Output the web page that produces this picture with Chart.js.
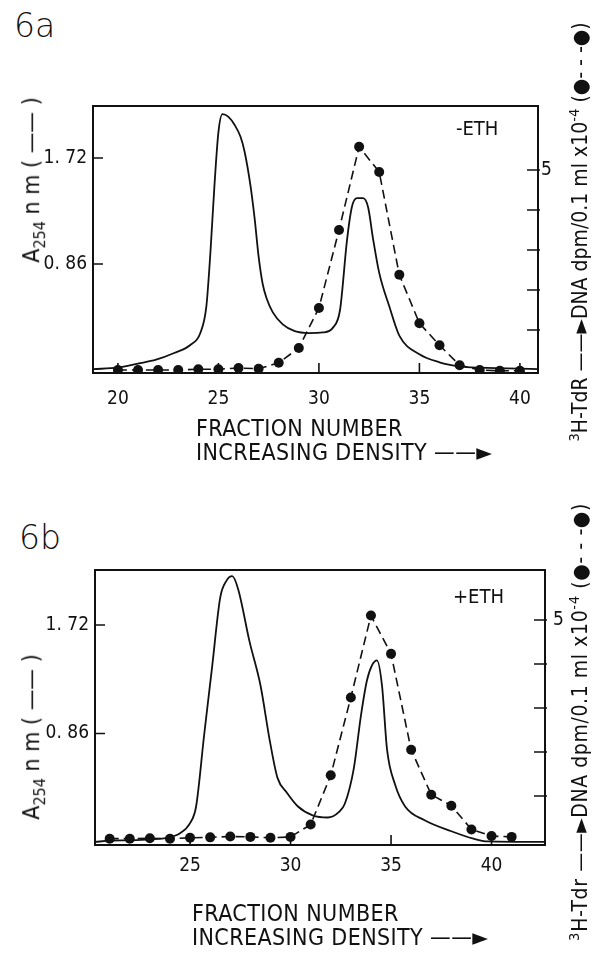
<!DOCTYPE html>
<html>
<head>
<meta charset="utf-8">
<script src="https://cdn.jsdelivr.net/npm/chart.js@4.4.1/dist/chart.umd.min.js"></script>
<style>
body { margin: 0; background: #fff; width: 592px; height: 953px; position: relative; overflow: hidden;
       font-family: "Liberation Sans Narrow", "DejaVu Sans Condensed", sans-serif; color: #111; }
canvas { position: absolute; left: 0; }
.t { position: absolute; white-space: nowrap; line-height: 1; transform: translateY(-50%); }
.rot { position: absolute; white-space: nowrap; line-height: 1; transform-origin: center;
       transform: translate(-50%, -50%) rotate(-90deg); }
.panel { font-family: "DejaVu Sans", sans-serif; font-weight: 200; font-size: 33px; }
sub, sup { font-size: 70%; }
</style>
</head>
<body>
<div class="t panel" style="left:14px;top:25px">6a</div>
<div class="t panel" style="left:19px;top:537px">6b</div>

<canvas id="chartA" width="592" height="470" style="top:0"></canvas>
<canvas id="chartB" width="592" height="483" style="top:470px"></canvas>

<div class="t" style="left:456px;top:128px;font-size:20px">-ETH</div>
<div class="t" style="left:453px;top:596px;font-size:20px">+ETH</div>

<div class="t" style="left:196px;top:428px;font-size:23px;letter-spacing:0.4px">FRACTION NUMBER</div>
<div class="t" style="left:196px;top:452px;font-size:23px;letter-spacing:0.4px">INCREASING DENSITY &#8212;&#8212;&#9658;</div>
<div class="t" style="left:192px;top:913px;font-size:23px;letter-spacing:0.4px">FRACTION NUMBER</div>
<div class="t" style="left:192px;top:937px;font-size:23px;letter-spacing:0.4px">INCREASING DENSITY &#8212;&#8212;&#9658;</div>

<div class="rot" style="left:34px;top:180px;font-size:23px">A<sub>254</sub> n m ( &#8212;&#8212; )</div>
<div class="rot" style="left:34px;top:737px;font-size:23px">A<sub>254</sub> n m ( &#8212;&#8212; )</div>
<div class="rot" style="left:579px;top:232px;font-size:21px"><sup>3</sup>H-TdR &#8212;&#8212;&#9658;DNA dpm/0.1 ml x10<sup>-4</sup> (&#9679;- - -&#9679;)</div>
<div class="rot" style="left:579px;top:722px;font-size:21px;letter-spacing:0.6px"><sup>3</sup>H-Tdr &#8212;&#8212;&#9658;DNA dpm/0.1 ml x10<sup>-4</sup> (&#9679;- - -&#9679;)</div>

<script>
// panel 6a (-ETH)
const fracLineA = [18.76, 20, 21, 21.9, 22.8, 23.6, 24.1, 24.4, 24.6, 24.8, 25.0, 25.2, 25.5, 25.8, 26.1, 26.3, 26.6, 26.8, 27.0, 27.2, 27.4, 27.7, 28.2, 28.8, 29.5, 30.2, 30.7, 31.05, 31.4, 31.64, 31.9, 32.2, 32.45, 32.7, 33.0, 33.5, 34.0, 35, 36, 37, 38, 40.9];
const absA = [0.008, 0.019, 0.052, 0.084, 0.138, 0.203, 0.301, 0.517, 0.95, 1.49, 1.93, 2.076, 2.054, 1.99, 1.892, 1.773, 1.49, 1.232, 0.92, 0.7, 0.58, 0.47, 0.37, 0.315, 0.3, 0.305, 0.344, 0.487, 1.058, 1.323, 1.394, 1.394, 1.318, 1.058, 0.788, 0.517, 0.279, 0.128, 0.063, 0.03, 0.019, 0.008];
const fracDotsA = [20, 21, 22, 23, 24, 25, 26, 27, 28, 29, 30, 31, 32, 33, 34, 35, 36, 37, 38, 39, 40];
const dpmA = [0, 0, 0, 0, 0.02, 0.02, 0.05, 0.03, 0.18, 0.55, 1.55, 3.5, 5.58, 4.95, 2.38, 1.17, 0.62, 0.12, 0, -0.02, -0.02];

// panel 6b (+ETH)
const fracLineB = [20.27, 21, 22, 23, 23.9, 24.5, 25.0, 25.3, 25.7, 26.1, 26.5, 26.8, 27.1, 27.4, 27.96, 28.5, 28.98, 29.35, 29.8, 30.37, 31.1, 31.85, 32.4, 32.7, 33.15, 33.5, 33.8, 34.05, 34.3, 34.55, 34.8, 35.2, 35.7, 36.67, 38, 39.1, 39.8, 42.66];
const absB = [0.0, 0.01, 0.013, 0.02, 0.035, 0.07, 0.15, 0.281, 0.848, 1.392, 1.937, 2.068, 2.107, 2.0, 1.588, 1.244, 0.791, 0.508, 0.394, 0.281, 0.211, 0.194, 0.237, 0.303, 0.586, 1.0, 1.28, 1.4, 1.44, 1.24, 0.734, 0.455, 0.281, 0.172, 0.085, 0.026, 0.004, 0.0];
const fracDotsB = [21, 22, 23, 24, 25, 26, 27, 28, 29, 30, 31, 32, 33, 34, 35, 36, 37, 38, 39, 40, 41];
const dpmB = [0.03, 0.03, 0.04, 0.03, 0.05, 0.06, 0.08, 0.07, 0.05, 0.07, 0.35, 1.47, 3.24, 5.1, 4.23, 2.05, 1.03, 0.78, 0.24, 0.09, 0.07];

// tick labels
const xTicksA = [20, 25, 30, 35, 40];
const xTicksB = [25, 30, 35, 40];
const absTicks = [0.86, 1.72];
const absTickLabels = ['0. 86', '1. 72'];
const dpmTicks = [1, 2, 3, 4, 5];
const dpmTickLabels = ['', '', '', '', '5'];

const INK = '#111';
const tickFont = { family: '"Liberation Sans Narrow", "DejaVu Sans Condensed", sans-serif', size: 19 };

// frame and inward ticks
const framePlugin = {
    id: 'frame',
    afterDatasetsDraw(chart) {
        const { ctx, chartArea: a, scales } = chart;
        ctx.save();
        ctx.strokeStyle = INK;
        ctx.lineWidth = 2;
        ctx.strokeRect(a.left, a.top, a.right - a.left, a.bottom - a.top);
        ctx.lineWidth = 1.6;
        ctx.beginPath();
        scales.x.ticks.forEach(t => {
            const px = scales.x.getPixelForValue(t.value);
            ctx.moveTo(px, a.bottom); ctx.lineTo(px, a.bottom - 10);
        });
        scales.y.ticks.forEach(t => {
            const py = scales.y.getPixelForValue(t.value);
            ctx.moveTo(a.left, py); ctx.lineTo(a.left + 10, py);
        });
        scales.y2.ticks.forEach(t => {
            const py = scales.y2.getPixelForValue(t.value);
            ctx.moveTo(a.right + 2, py); ctx.lineTo(a.right - 11, py);
        });
        ctx.stroke();
        ctx.restore();
    }
};

function makeChart(id, o) {
    const solid = o.fracLine.map((x, i) => ({ x: x, y: o.abs[i] }));
    const dots = o.fracDots.map((x, i) => ({ x: x, y: o.dpm[i] }));
    return new Chart(document.getElementById(id), {
        type: 'line',
        data: {
            datasets: [
                {
                    data: dots,
                    yAxisID: 'y2',
                    borderColor: INK,
                    borderWidth: 1.6,
                    borderDash: [9, 5],
                    pointRadius: 5,
                    pointBackgroundColor: INK,
                    pointBorderWidth: 0,
                    tension: 0,
                    order: 1
                },
                {
                    data: solid,
                    yAxisID: 'y',
                    borderColor: INK,
                    borderWidth: 1.8,
                    pointRadius: 0,
                    cubicInterpolationMode: 'monotone',
                    order: 2
                }
            ]
        },
        options: {
            responsive: false,
            animation: false,
            layout: { padding: { top: o.top, left: 0, right: 0, bottom: 0 } },
            plugins: { legend: { display: false }, tooltip: { enabled: false } },
            scales: {
                x: {
                    type: 'linear', min: o.xMin, max: o.xMax,
                    grid: { display: false, drawTicks: false }, border: { display: false },
                    afterBuildTicks: s => { s.ticks = o.xTicks.map(v => ({ value: v })); },
                    afterFit: s => { s.height = o.xHeight; },
                    ticks: { color: INK, font: tickFont, padding: o.xPad, maxRotation: 0 }
                },
                y: {
                    position: 'left', min: o.yMin, max: o.yMax,
                    grid: { display: false, drawTicks: false }, border: { display: false },
                    afterBuildTicks: s => { s.ticks = absTicks.map(v => ({ value: v })); },
                    afterFit: s => { s.width = o.leftW; },
                    ticks: { color: INK, font: tickFont, padding: 6,
                             callback: v => absTickLabels[absTicks.indexOf(v)] }
                },
                y2: {
                    position: 'right', min: o.y2Min, max: o.y2Max,
                    grid: { display: false, drawTicks: false }, border: { display: false },
                    afterBuildTicks: s => { s.ticks = dpmTicks.map(v => ({ value: v })); },
                    afterFit: s => { s.width = o.rightW; },
                    ticks: { color: INK, font: tickFont, padding: o.y2Pad,
                             callback: v => dpmTickLabels[dpmTicks.indexOf(v)] }
                }
            }
        },
        plugins: [framePlugin]
    });
}

makeChart('chartA', {
    fracLine: fracLineA, abs: absA, fracDots: fracDotsA, dpm: dpmA, xTicks: xTicksA,
    xMin: 18.76, xMax: 40.9, yMin: -0.024, yMax: 2.142, y2Min: -0.075, y2Max: 6.6,
    top: 106, xHeight: 97, leftW: 93, rightW: 54, xPad: 15, y2Pad: 3
});

makeChart('chartB', {
    fracLine: fracLineB, abs: absB, fracDots: fracDotsB, dpm: dpmB, xTicks: xTicksB,
    xMin: 20.27, xMax: 42.66, yMin: -0.024, yMax: 2.156, y2Min: -0.114, y2Max: 6.136,
    top: 100, xHeight: 108, leftW: 95, rightW: 47, xPad: 10, y2Pad: 8
});
</script>
</body>
</html>
